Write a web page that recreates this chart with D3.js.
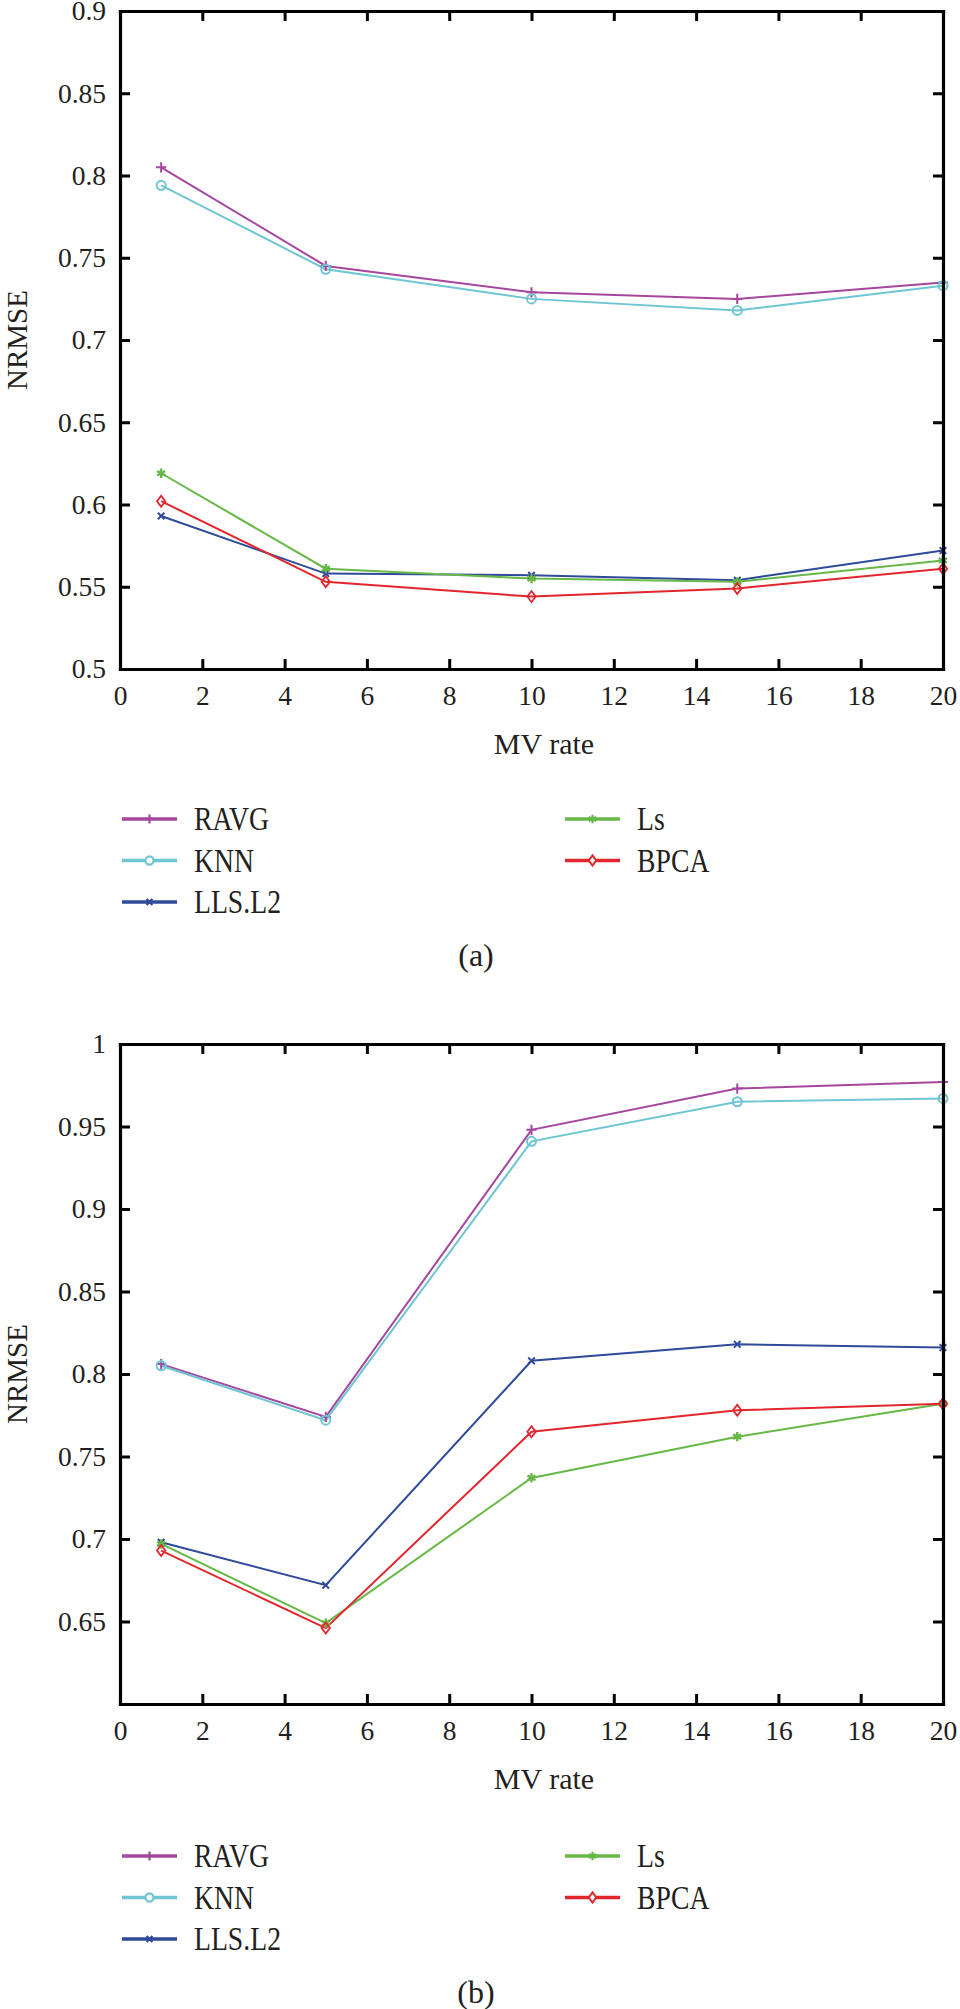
<!DOCTYPE html>
<html>
<head>
<meta charset="utf-8">
<script src="https://cdn.jsdelivr.net/npm/d3@7"></script>
<style>
  body { margin: 0; background: #fff; }
</style>
</head>
<body>
<svg id="chart" width="960" height="2009"></svg>
<script>
// x values (MV rate, %)
var mvRate = [1, 5, 10, 15, 20];
var xTicks = [0, 2, 4, 6, 8, 10, 12, 14, 16, 18, 20];

// panel (a) NRMSE values
var aRavg = [0.805, 0.745, 0.729, 0.725, 0.735];
var aKnn  = [0.794, 0.743, 0.725, 0.718, 0.733];
var aLls  = [0.593, 0.558, 0.557, 0.554, 0.572];
var aLs   = [0.619, 0.561, 0.555, 0.553, 0.566];
var aBpca = [0.602, 0.553, 0.544, 0.549, 0.561];
var yTicksA = [0.5, 0.55, 0.6, 0.65, 0.7, 0.75, 0.8, 0.85, 0.9];

// panel (b) NRMSE values
var bRavg = [0.806, 0.774, 0.948, 0.973, 0.977];
var bKnn  = [0.805, 0.772, 0.941, 0.965, 0.967];
var bLls  = [0.698, 0.672, 0.808, 0.818, 0.816];
var bLs   = [0.697, 0.649, 0.737, 0.762, 0.782];
var bBpca = [0.693, 0.646, 0.765, 0.778, 0.782];
var yTicksB = [0.65, 0.7, 0.75, 0.8, 0.85, 0.9, 0.95, 1];

var methods = ["RAVG", "KNN", "LLS.L2", "Ls", "BPCA"];
var colors = ["#a5479f", "#6ec6d2", "#2f4a9a", "#67b847", "#e2262c"];
var shapes = [d3.symbolPlus, d3.symbolCircle, d3.symbolTimes, d3.symbolAsterisk, d3.symbolDiamond2];
var sizes = [36, 64, 30, 60, 70];

var serif = "'Liberation Serif', 'DejaVu Serif', serif";
var svg = d3.select("#chart");
var left = 120, right = 943;
var x = d3.scaleLinear().domain([0, 20]).range([left, right]);
var fmt = d3.format("~g");

function drawPanel(series, yDomain, yTicks, top, bottom, label, legendY) {
    var y = d3.scaleLinear().domain(yDomain).range([bottom, top]);
    var g = svg.append("g");

    // lines
    var line = d3.line()
        .x(function(d, i) { return x(mvRate[i]); })
        .y(function(d) { return y(d); });

    series.forEach(function(vals, k) {
        g.append("path")
            .datum(vals)
            .attr("d", line)
            .attr("fill", "none")
            .attr("stroke", colors[k])
            .attr("stroke-width", 2);
    });

    // markers on top
    series.forEach(function(vals, k) {
        g.selectAll(".m" + k)
            .data(vals)
            .enter().append("path")
            .attr("d", d3.symbol().type(shapes[k]).size(sizes[k]))
            .attr("transform", function(d, i) {
                var s = k == 4 ? " scale(0.8,1.05)" : "";
                return "translate(" + x(mvRate[i]) + "," + y(d) + ")" + s;
            })
            .attr("fill", "none")
            .attr("stroke", colors[k])
            .attr("stroke-width", k == 3 ? 2.4 : 2);
    });

    // axes, ticks inward
    var ax = svg.append("g").attr("class", "axes");
    ax.append("g").attr("transform", "translate(0," + bottom + ")")
        .call(d3.axisBottom(x).tickValues(xTicks).tickSizeInner(-10).tickSizeOuter(0).tickPadding(16).tickFormat(fmt));
    ax.append("g").attr("transform", "translate(0," + top + ")")
        .call(d3.axisTop(x).tickValues(xTicks).tickSizeInner(-10).tickSizeOuter(0).tickFormat(""));
    ax.append("g").attr("transform", "translate(" + left + ",0)")
        .call(d3.axisLeft(y).tickValues(yTicks).tickSizeInner(-10).tickSizeOuter(0).tickPadding(14).tickFormat(fmt));
    ax.append("g").attr("transform", "translate(" + right + ",0)")
        .call(d3.axisRight(y).tickValues(yTicks).tickSizeInner(-10).tickSizeOuter(0).tickFormat(""));
    ax.selectAll(".domain").attr("stroke", "#000").attr("stroke-width", 3.2).attr("stroke-linecap", "square");
    ax.selectAll(".tick line").attr("stroke", "#000").attr("stroke-width", 3);
    ax.selectAll(".tick text")
        .style("font-family", serif)
        .style("font-size", "27.5px")
        .style("fill", "#231f20");

    // axis titles
    svg.append("text")
        .attr("x", 544)
        .attr("y", bottom + 85)
        .attr("text-anchor", "middle")
        .style("font-family", serif)
        .style("font-size", "30px")
        .style("fill", "#231f20")
        .text("MV rate");

    svg.append("text")
        .attr("transform", "translate(27," + ((top + bottom) / 2) + ") rotate(-90)")
        .attr("text-anchor", "middle")
        .style("font-family", serif)
        .style("font-size", "29px")
        .style("fill", "#231f20")
        .text("NRMSE");

    // legend: two columns
    var legend = svg.append("g");
    methods.forEach(function(name, k) {
        var col = k < 3 ? 0 : 1;
        var row = k < 3 ? k : k - 3;
        var lx = col == 0 ? 122 : 565;
        var ly = legendY + row * 41.5;
        var item = legend.append("g").attr("transform", "translate(" + lx + "," + ly + ")");
        item.append("line")
            .attr("x1", 0).attr("x2", 55)
            .attr("stroke", colors[k])
            .attr("stroke-width", 3.5);
        item.append("path")
            .attr("d", d3.symbol().type(shapes[k]).size(sizes[k] * 0.8))
            .attr("transform", "translate(27.5,0)" + (k == 4 ? " scale(0.8,1.1)" : ""))
            .attr("fill", k == 1 || k == 4 ? "#fff" : "none")
            .attr("stroke", colors[k])
            .attr("stroke-width", 2.2);
        item.append("text")
            .attr("transform", "translate(72,11) scale(0.84,1)")
            .style("font-family", serif)
            .style("font-size", "33px")
            .style("fill", "#231f20")
            .text(name);
    });

    svg.append("text")
        .attr("x", 476)
        .attr("y", legendY + 147)
        .attr("text-anchor", "middle")
        .style("font-family", serif)
        .style("font-size", "32px")
        .style("fill", "#231f20")
        .text(label);
}

drawPanel([aRavg, aKnn, aLls, aLs, aBpca], [0.5, 0.9], yTicksA, 11, 669, "(a)", 819);
drawPanel([bRavg, bKnn, bLls, bLs, bBpca], [0.6, 1.0], yTicksB, 1044, 1704, "(b)", 1856);
</script>
</body>
</html>
